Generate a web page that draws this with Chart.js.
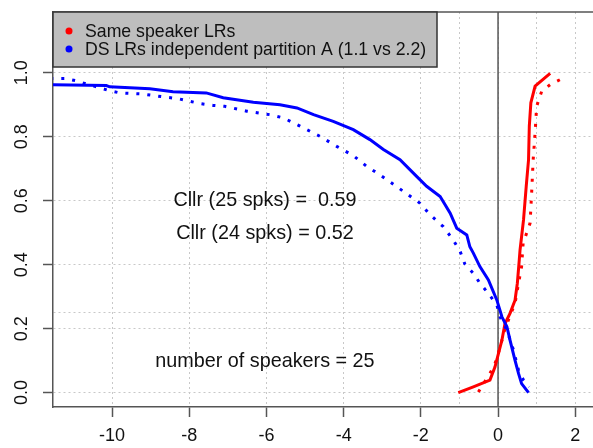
<!DOCTYPE html>
<html>
<head>
<meta charset="utf-8">
<script src="https://cdn.jsdelivr.net/npm/chart.js@4.4.1/dist/chart.umd.min.js"></script>
<style>
  html, body { margin: 0; padding: 0; background: #fff; }
  #wrap { width: 593px; height: 448px; }
</style>
</head>
<body>
<div id="wrap"><canvas id="tippett" width="593" height="448"></canvas></div>
<script>
// log10 LR values and cumulative proportions
const dsLr25 = [-11.6, -10.15, -10.06, -9.02, -8.42, -7.56, -7.12, -6.34, -5.65, -5.21, -4.78, -4.27, -3.75, -3.32, -2.97, -2.54, -2.11, -1.85, -1.50, -1.24, -1.07, -0.81, -0.73, -0.64, -0.47, -0.25, -0.03, 0.10, 0.23, 0.31, 0.44, 0.53, 0.61, 0.79];
const dsProp25 = [0.963, 0.960, 0.956, 0.950, 0.941, 0.937, 0.922, 0.908, 0.900, 0.890, 0.869, 0.848, 0.822, 0.791, 0.760, 0.728, 0.676, 0.645, 0.613, 0.561, 0.514, 0.493, 0.456, 0.436, 0.394, 0.352, 0.289, 0.237, 0.206, 0.164, 0.101, 0.060, 0.028, 0.000];

const dsLr24 = [-11.6, -11.2, -10.9, -10.67, -10.4, -10.1, -9.8, -9.24, -8.94, -8.29, -7.99, -7.69, -7.38, -7.08, -6.51, -5.91, -5.56, -5.13, -4.61, -4.18, -3.75, -3.40, -3.06, -2.45, -2.02, -1.76, -1.42, -1.16, -0.98, -0.86, -0.64, -0.47, -0.25, -0.03, 0.05, 0.23, 0.40, 0.53, 0.66, 0.81];
const dsProp24 = [0.982, 0.982, 0.974, 0.965, 0.956, 0.945, 0.937, 0.934, 0.929, 0.919, 0.911, 0.903, 0.898, 0.895, 0.880, 0.869, 0.859, 0.833, 0.801, 0.770, 0.741, 0.707, 0.681, 0.629, 0.592, 0.556, 0.519, 0.477, 0.441, 0.402, 0.373, 0.342, 0.310, 0.274, 0.237, 0.195, 0.133, 0.070, 0.039, 0.018];

const ssLr25 = [-1.03, -0.64, -0.21, -0.08, 0.01, 0.10, 0.18, 0.31, 0.44, 0.50, 0.55, 0.57, 0.66, 0.73, 0.79, 0.81, 0.85, 0.96, 1.35];
const ssProp25 = [0.000, 0.018, 0.039, 0.080, 0.122, 0.164, 0.216, 0.248, 0.289, 0.342, 0.415, 0.446, 0.540, 0.645, 0.728, 0.833, 0.906, 0.958, 0.998];

const ssLr24 = [-0.51, -0.21, -0.08, 0.05, 0.18, 0.44, 0.50, 0.61, 0.65, 0.83, 0.87, 0.91, 0.96, 1.00, 1.13, 1.35, 1.68];
const ssProp24 = [0.002, 0.060, 0.090, 0.140, 0.200, 0.279, 0.321, 0.394, 0.467, 0.530, 0.624, 0.728, 0.812, 0.895, 0.942, 0.963, 0.983];

const xGridValues = [-10, -8, -6, -4, -2, -1, 0, 1, 2];
const xTickLabels = [-10, -8, -6, -4, -2, 0, 2];
const yGridValues = [0, 0.2, 0.25, 0.4, 0.6, 0.8, 1.0];
const yTickLabels = [0, 0.2, 0.4, 0.6, 0.8, 1.0];

const legendLabels = ["Same speaker LRs", "DS LRs independent partition A (1.1 vs 2.2)"];
const noteTexts = ["Cllr (25 spks) =  0.59", "Cllr (24 spks) = 0.52", "number of speakers = 25"];

const FONT = "'Liberation Sans', Arial, sans-serif";
const RED = "#ff0000";
const BLUE = "#0000ff";

const toPoints = (xs, ys) => xs.map((v, i) => ({ x: v, y: ys[i] }));

const tippettExtras = {
    id: "tippettExtras",
    beforeDatasetsDraw(chart) {
        const { ctx, chartArea: a, scales: { x } } = chart;
        const x0 = x.getPixelForValue(0);
        ctx.save();
        ctx.strokeStyle = "#555";
        ctx.lineWidth = 1.5;
        ctx.beginPath();
        ctx.moveTo(x0, a.top);
        ctx.lineTo(x0, a.bottom);
        ctx.stroke();
        ctx.restore();
    },
    afterDraw(chart) {
        const { ctx, chartArea: a, scales: { x, y } } = chart;
        ctx.save();

        // top of the box
        ctx.strokeStyle = "#555";
        ctx.lineWidth = 1.5;
        ctx.beginPath();
        ctx.moveTo(a.left, a.top);
        ctx.lineTo(a.right + 2, a.top);
        ctx.stroke();

        // legend box
        ctx.fillStyle = "#bebebe";
        ctx.fillRect(a.left, a.top, 384, 55);
        ctx.strokeStyle = "#333";
        ctx.lineWidth = 1.5;
        ctx.strokeRect(a.left, a.top, 384, 55);
        ctx.font = "17.7px " + FONT;
        ctx.textBaseline = "middle";
        ctx.textAlign = "left";
        [RED, BLUE].forEach((c, i) => {
            const cy = a.top + 19 + i * 18;
            ctx.fillStyle = c;
            ctx.beginPath();
            ctx.arc(a.left + 16, cy, 3.5, 0, Math.PI * 2);
            ctx.fill();
            ctx.fillStyle = "#111";
            ctx.fillText(legendLabels[i], a.left + 32, cy + 1);
        });

        // Cllr notes
        const notePos = [[-6.04, 0.60], [-6.04, 0.498], [-6.04, 0.098]];
        ctx.font = "19.8px " + FONT;
        ctx.textAlign = "center";
        ctx.fillStyle = "#111";
        noteTexts.forEach((t, i) => {
            ctx.fillText(t, x.getPixelForValue(notePos[i][0]), y.getPixelForValue(notePos[i][1]));
        });
        ctx.restore();
    }
};

const solid = (label, data, color) => ({
    label, data, borderColor: color, backgroundColor: color,
    borderWidth: 3, pointRadius: 0, tension: 0, fill: false
});
const dotted = (label, data, color) => ({
    ...solid(label, data, color), borderDash: [3, 8]
});

const labelled = (list, ctx) => ctx.tick && list.includes(ctx.tick.value);
const noPad = (s) => { s.paddingTop = 0; s.paddingBottom = 0; s.paddingLeft = 0; s.paddingRight = 0; };

new Chart(document.getElementById("tippett"), {
    type: "line",
    data: {
        datasets: [
            dotted("DS 24 spks", toPoints(dsLr24, dsProp24), BLUE),
            solid("DS 25 spks", toPoints(dsLr25, dsProp25), BLUE),
            dotted("SS 24 spks", toPoints(ssLr24, ssProp24), RED),
            solid("SS 25 spks", toPoints(ssLr25, ssProp25), RED),
        ],
    },
    options: {
        responsive: false,
        animation: false,
        devicePixelRatio: 1,
        layout: { padding: { top: 12, right: 0, left: 0, bottom: 0 } },
        plugins: { legend: { display: false }, tooltip: { enabled: false } },
        scales: {
            x: {
                type: "linear",
                min: -11.53,
                max: 2.46,
                afterBuildTicks: (s) => { s.ticks = xGridValues.map((v) => ({ value: v })); },
                afterFit: (s) => { s.height = 41; noPad(s); },
                ticks: {
                    autoSkip: false,
                    maxRotation: 0,
                    padding: 8,
                    color: "#111",
                    font: { family: FONT, size: 18 },
                    callback: (v) => (xTickLabels.includes(v) ? String(v) : ""),
                },
                grid: {
                    color: "#c8c8c8",
                    lineWidth: 1,
                    tickLength: 10,
                    tickWidth: 1.5,
                    tickColor: (ctx) => (labelled(xTickLabels, ctx) ? "#555" : "rgba(0,0,0,0)"),
                },
                border: { display: true, color: "#555", width: 1.5, dash: [2, 3] },
            },
            y: {
                min: -0.045,
                max: 1.19,
                afterBuildTicks: (s) => { s.ticks = yGridValues.map((v) => ({ value: v })); },
                afterFit: (s) => { s.width = 53; noPad(s); },
                ticks: {
                    autoSkip: false,
                    minRotation: 90,
                    maxRotation: 90,
                    crossAlign: "center",
                    padding: 8,
                    color: "#111",
                    font: { family: FONT, size: 18 },
                    callback: (v) => (yTickLabels.includes(v) ? v.toFixed(1) : ""),
                },
                grid: {
                    color: "#c8c8c8",
                    lineWidth: 1,
                    tickLength: 10,
                    tickWidth: 1.5,
                    tickColor: (ctx) => (labelled(yTickLabels, ctx) ? "#555" : "rgba(0,0,0,0)"),
                },
                border: { display: true, color: "#555", width: 1.5, dash: [2, 3] },
            },
        },
    },
    plugins: [tippettExtras],
});
</script>
</body>
</html>
